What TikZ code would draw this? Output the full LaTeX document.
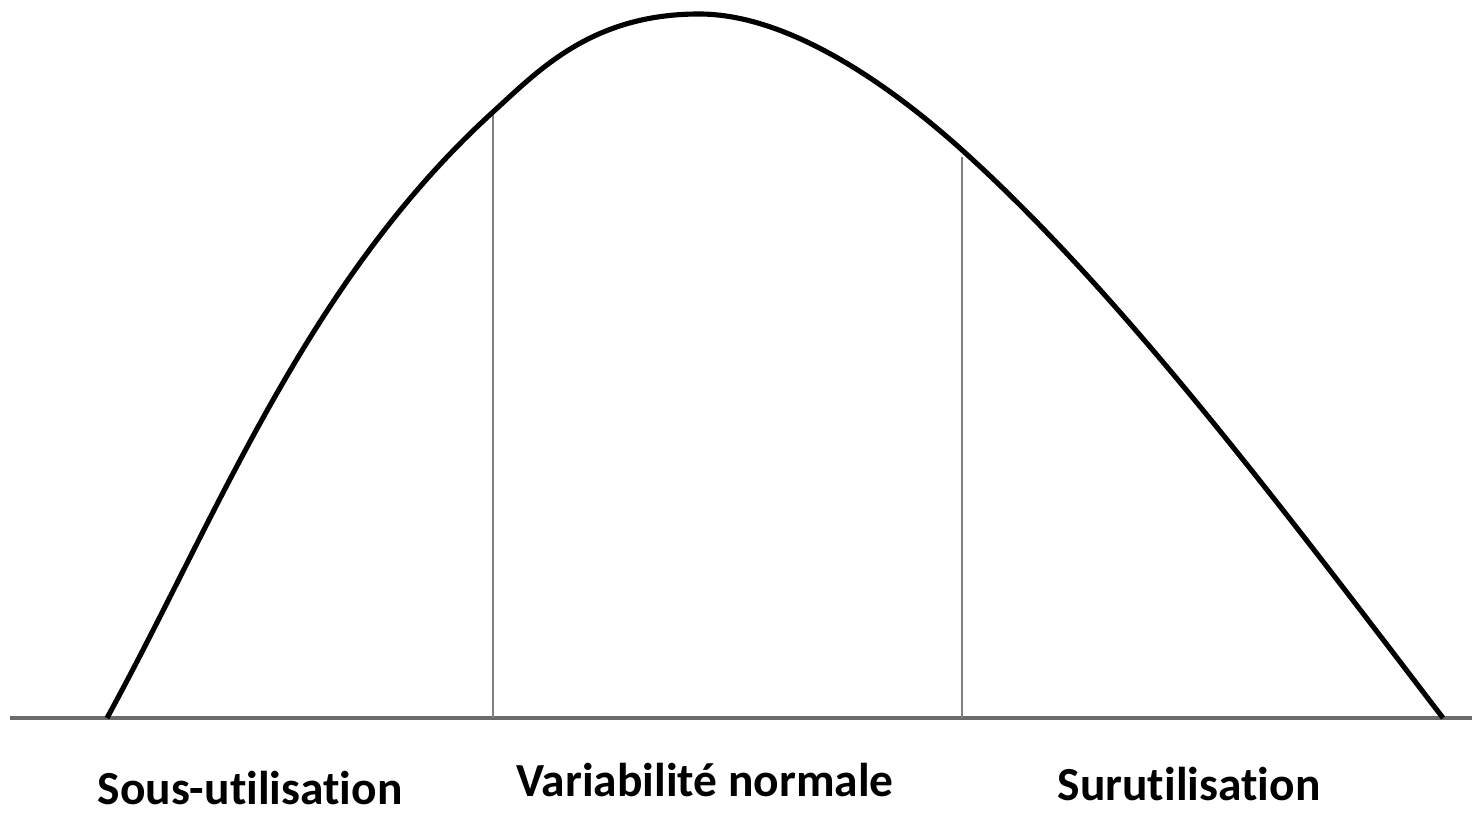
\documentclass[tikz,border=0pt]{standalone}
\usepackage{fontspec}
\setmainfont{Carlito}[Ligatures=NoCommon]
\usepackage{tikz}
\usetikzlibrary{positioning,calc}

\begin{document}
\begin{tikzpicture}[
  x=0.01cm, y=-0.01cm,
  zone/.style={font=\bfseries\fontsize{13.5}{16}\selectfont, anchor=base, inner sep=0pt},
  axis/.style={draw=black!58, line width=0.9pt},
  cut/.style={draw=black!50, line width=0.6pt},
  bell/.style={draw=black, line width=1.45pt, line join=round}
]
\useasboundingbox (0,0) rectangle (1472,816);
% axis
\coordinate (axL) at (10,718);
\coordinate (axR) at (1472,718);
\draw[axis] (axL) -- (axR);
% cuts
\coordinate (c1top) at (493,112);
\coordinate (c1bot) at (493,718);
\coordinate (c2top) at (962,157);
\coordinate (c2bot) at (962,718);
\draw[cut] (c1top) -- (c1bot);
\draw[cut] (c2top) -- (c2bot);
% curve
\coordinate (start) at (107,718);
\coordinate (peak) at (699,14);
\coordinate (stop) at (1443,718);
\draw[bell] (start) .. controls (217,517) and (306,282) .. (493,112)
  .. controls (539,70) and (592,14) .. (peak)
  .. controls (790,14) and (892,87) .. (962,150)
  .. controls (1122,294) and (1283,509) .. (stop);
% labels
\node[zone] (under) at (250,805) {Sous-utilisation};
\node[zone] (normal) at (705,797) {Variabilité normale};
\node[zone] (over) at (1189,801) {Surutilisation};
\end{tikzpicture}
\end{document}
